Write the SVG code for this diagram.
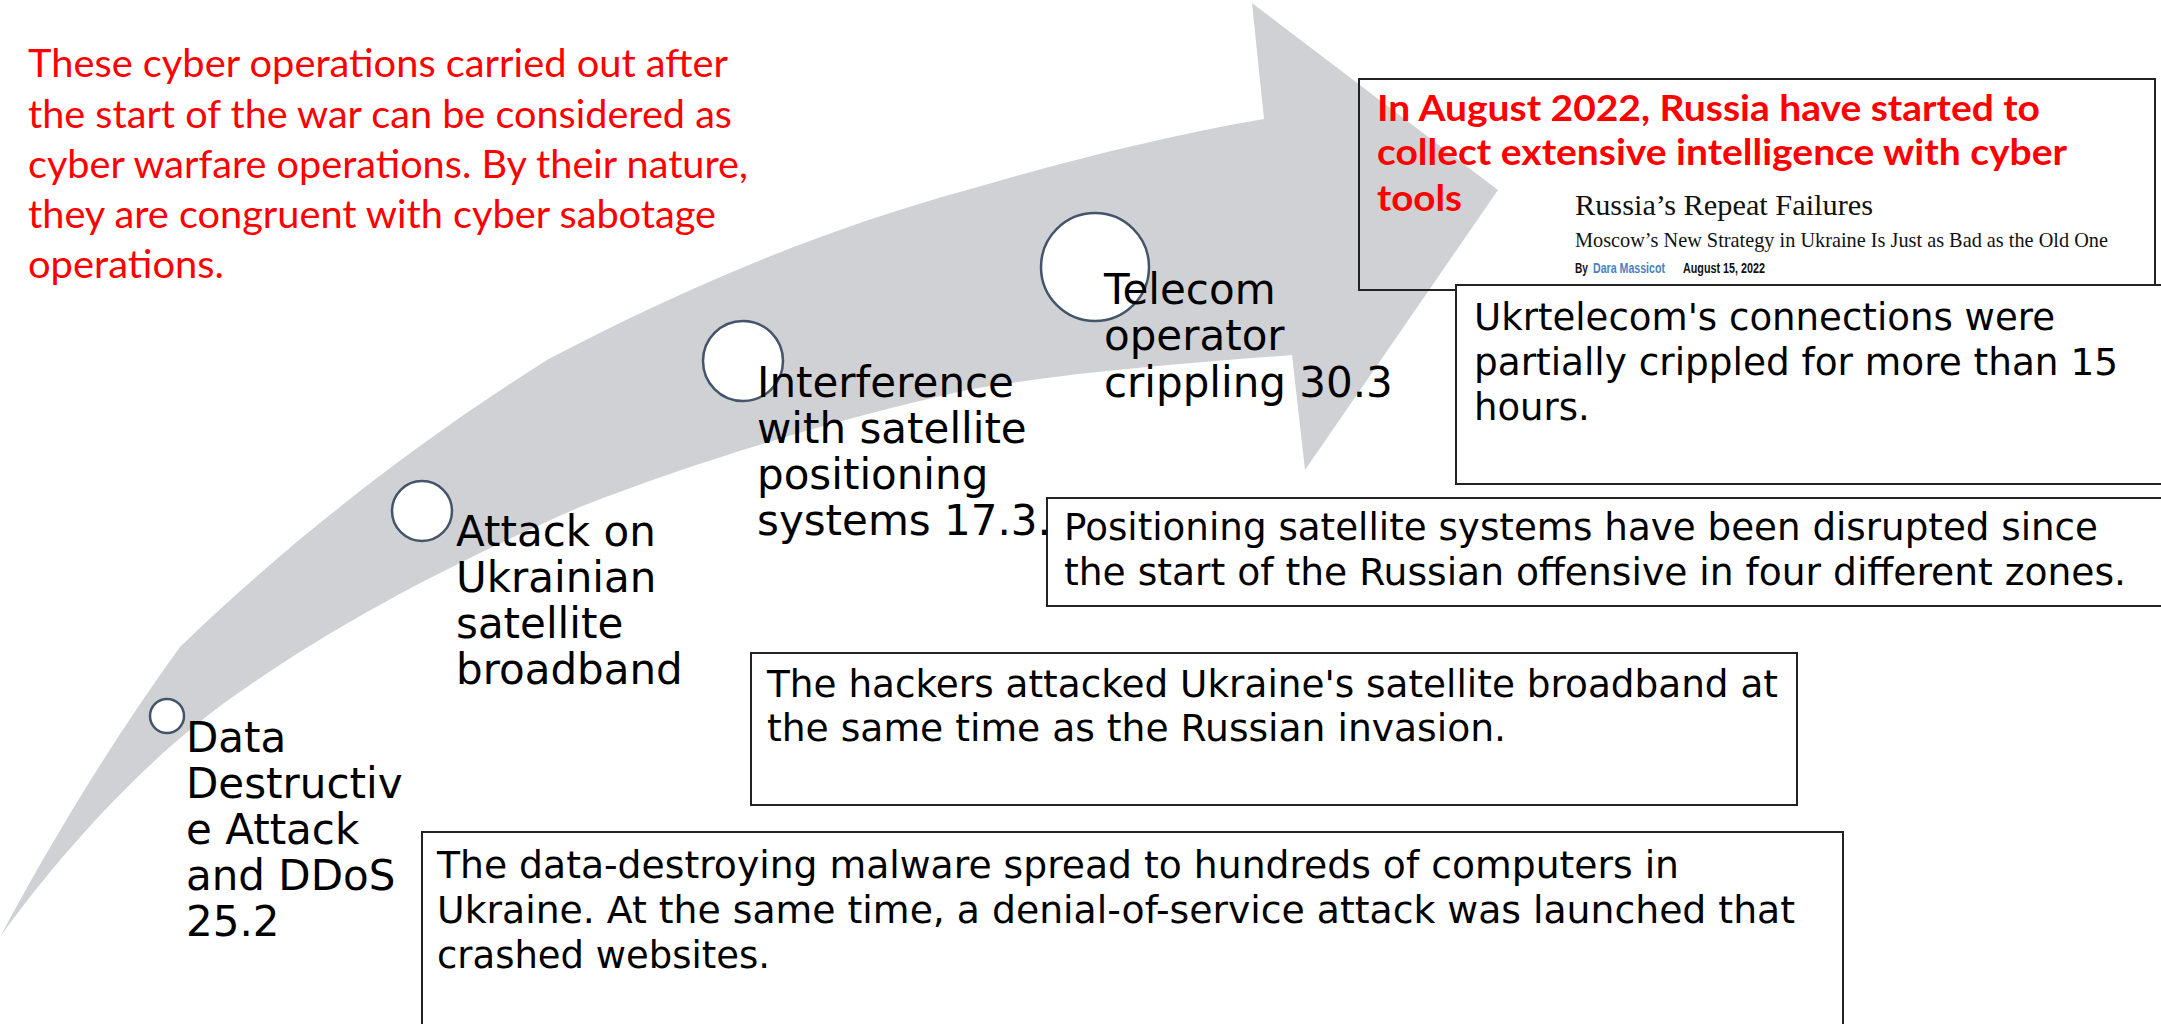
<svg xmlns="http://www.w3.org/2000/svg" width="2161" height="1024" viewBox="0 0 2161 1024">
  <style>
    .band { fill: #cfd1d5; }
    .dot { fill: #ffffff; stroke: #44546a; stroke-width: 2.5; }
    .box { fill: #ffffff; stroke: #222222; stroke-width: 2; }
    .frame { fill: none; stroke: #222222; stroke-width: 2; }
    .label { font-family: "DejaVu Sans", Verdana, sans-serif; font-size: 42px; fill: #000000; }
    .note { font-family: "DejaVu Sans", Verdana, sans-serif; font-size: 37px; fill: #000000; }
    .red { font-family: Lato, "Liberation Sans", sans-serif; font-size: 38px; fill: #ff0000; }
    .redb { font-family: Lato, "Liberation Sans", sans-serif; font-size: 37px; font-weight: bold; fill: #ff0000; }
    .head { font-family: "Liberation Serif", serif; fill: #111111; }
    .by { font-family: "Liberation Sans", Arial, sans-serif; font-size: 14px; font-weight: bold; fill: #111111; }
    .author { fill: #4a82c0; }
  </style>

  <rect x="0" y="0" width="2161" height="1024" fill="#ffffff"/>

  <!-- curved timeline arrow -->
  <g id="timeline-arrow">
    <path class="band" d="M0,937 C60,825 120,730 180,647 C290,540 420,440 547,360 C680,290 820,230 967,190 C1070,160 1170,135 1264,119 L1252,3 L1498,190 L1305,470 L1292,355 C1180,364 1070,372 967,390 C840,418 700,460 580,507 C470,555 350,615 247,687 C160,745 70,840 0,937 Z"/>
  </g>

  <!-- side note -->
  <g id="intro-note">
    <text class="red" x="28" y="77" textLength="700" lengthAdjust="spacingAndGlyphs">These cyber operations carried out after</text>
    <text class="red" x="28" y="128" textLength="704" lengthAdjust="spacingAndGlyphs">the start of the war can be considered as</text>
    <text class="red" x="28" y="178" textLength="720" lengthAdjust="spacingAndGlyphs">cyber warfare operations. By their nature,</text>
    <text class="red" x="28" y="228" textLength="688" lengthAdjust="spacingAndGlyphs">they are congruent with cyber sabotage</text>
    <text class="red" x="28" y="278" textLength="196" lengthAdjust="spacingAndGlyphs">operations.</text>
  </g>

  <!-- description boxes -->
  <g id="box-intelligence">
    <rect class="frame" x="1359" y="79" width="796" height="211"/>
    <text class="redb" x="1377" y="121" textLength="663" lengthAdjust="spacingAndGlyphs">In August 2022, Russia have started to</text>
    <text class="redb" x="1377" y="165" textLength="690" lengthAdjust="spacingAndGlyphs">collect extensive intelligence with cyber</text>
    <text class="redb" x="1377" y="211" textLength="85" lengthAdjust="spacingAndGlyphs">tools</text>
    <text class="head" x="1575" y="215" font-size="30" textLength="298" lengthAdjust="spacingAndGlyphs">Russia’s Repeat Failures</text>
    <text class="head" x="1575" y="247" font-size="21" textLength="533" lengthAdjust="spacingAndGlyphs">Moscow’s New Strategy in Ukraine Is Just as Bad as the Old One</text>
    <text class="by" x="1575" y="273" textLength="13" lengthAdjust="spacingAndGlyphs">By</text>
    <text class="by author" x="1593" y="273" textLength="72" lengthAdjust="spacingAndGlyphs">Dara Massicot</text>
    <text class="by" x="1683" y="273" textLength="82" lengthAdjust="spacingAndGlyphs">August 15, 2022</text>
  </g>

  <g id="box-ukrtelecom">
    <rect class="box" x="1456" y="285" width="720" height="199"/>
    <text class="note" x="1474" y="330" textLength="581" lengthAdjust="spacingAndGlyphs">Ukrtelecom's connections were</text>
    <text class="note" x="1474" y="375" textLength="644" lengthAdjust="spacingAndGlyphs">partially crippled for more than 15</text>
    <text class="note" x="1474" y="420">hours.</text>
  </g>

  <g id="box-positioning">
    <rect class="box" x="1047" y="498" width="1130" height="108"/>
    <text class="note" x="1064" y="540" textLength="1034" lengthAdjust="spacingAndGlyphs">Positioning satellite systems have been disrupted since</text>
    <text class="note" x="1064" y="585" textLength="1062" lengthAdjust="spacingAndGlyphs">the start of the Russian offensive in four different zones.</text>
  </g>

  <g id="box-broadband">
    <rect class="box" x="751" y="653" width="1046" height="152"/>
    <text class="note" x="767" y="697" textLength="1011" lengthAdjust="spacingAndGlyphs">The hackers attacked Ukraine's satellite broadband at</text>
    <text class="note" x="767" y="741" textLength="739" lengthAdjust="spacingAndGlyphs">the same time as the Russian invasion.</text>
  </g>

  <g id="box-malware">
    <rect class="box" x="422" y="832" width="1421" height="200"/>
    <text class="note" x="437" y="878" textLength="1242" lengthAdjust="spacingAndGlyphs">The data-destroying malware spread to hundreds of computers in</text>
    <text class="note" x="437" y="923" textLength="1358" lengthAdjust="spacingAndGlyphs">Ukraine. At the same time, a denial-of-service attack was launched that</text>
    <text class="note" x="437" y="968" textLength="333" lengthAdjust="spacingAndGlyphs">crashed websites.</text>
  </g>

  <!-- timeline events -->
  <g id="event-ddos">
    <circle class="dot" cx="167" cy="716" r="17"/>
    <text class="label" x="186" y="752">Data</text>
    <text class="label" x="186" y="798">Destructiv</text>
    <text class="label" x="186" y="844">e Attack</text>
    <text class="label" x="186" y="890">and DDoS</text>
    <text class="label" x="186" y="936">25.2</text>
  </g>

  <g id="event-broadband">
    <circle class="dot" cx="422" cy="511" r="30"/>
    <text class="label" x="456" y="546">Attack on</text>
    <text class="label" x="456" y="592">Ukrainian</text>
    <text class="label" x="456" y="638">satellite</text>
    <text class="label" x="456" y="684">broadband</text>
  </g>

  <g id="event-positioning">
    <circle class="dot" cx="743" cy="361" r="40"/>
    <text class="label" x="757" y="397">Interference</text>
    <text class="label" x="757" y="443">with satellite</text>
    <text class="label" x="757" y="489">positioning</text>
    <text class="label" x="757" y="535">systems 17.3.</text>
  </g>

  <g id="event-telecom">
    <circle class="dot" cx="1095" cy="267" r="54"/>
    <text class="label" x="1104" y="304">Telecom</text>
    <text class="label" x="1104" y="350">operator</text>
    <text class="label" x="1104" y="397">crippling 30.3</text>
  </g>

  <!-- the timeline has no separate connectors -->
  <g id="connectors"/>
</svg>
